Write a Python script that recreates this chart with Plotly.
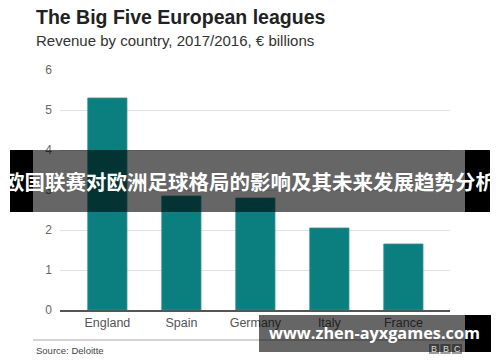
import plotly.graph_objects as go

countries = ["England", "Spain", "Germany", "Italy", "France"]
revenue = [5.3, 2.85, 2.8, 2.05, 1.65]
y_ticks = [0, 1, 2, 3, 4, 5, 6]

title = "The Big Five European leagues"
subtitle = "Revenue by country, 2017/2016, € billions"
source = "Source: Deloitte"
banner = "欧国联赛对欧洲足球格局的影响及其未来发展趋势分析"
watermark = "www.zhen-ayxgames.com"

W, H = 500, 362
def px(x):
    return x / W
def py(y):
    return 1 - y / H

fig = go.Figure(go.Bar(
    x=countries, y=revenue, width=0.53,
    marker=dict(color="#0b7f80", line=dict(color="#2a9496", width=0.8)),
))

shapes = []
annotations = []

# bottom separator line
shapes.append(dict(type="line", xref="paper", yref="paper", x0=px(33), x1=px(470),
                   y0=py(340), y1=py(340), line=dict(color="#aaaaaa", width=1)))
# BBC logo boxes
for i, letter in enumerate("BBC"):
    x0 = 429 + i * 11.5
    shapes.append(dict(type="rect", xref="paper", yref="paper", x0=px(x0), x1=px(x0 + 10),
                       y0=py(354), y1=py(344), fillcolor="#9a9a9a", line=dict(width=0)))
    annotations.append(dict(text=letter, xref="paper", yref="paper", x=px(x0 + 5), y=py(349),
                            showarrow=False, font=dict(color="#dddddd", size=9,
                            family="Liberation Sans"), xanchor="center", yanchor="middle"))

# banner overlay
shapes.append(dict(type="rect", xref="paper", yref="paper", x0=px(33), x1=px(465),
                   y0=py(212), y1=py(150), fillcolor="rgba(0,0,0,0.6)", line=dict(width=0),
                   layer="above"))
shapes.append(dict(type="rect", xref="paper", yref="paper", x0=px(10), x1=px(33),
                   y0=py(212), y1=py(150), fillcolor="#000000", line=dict(width=0), layer="above"))
shapes.append(dict(type="rect", xref="paper", yref="paper", x0=px(465), x1=px(490),
                   y0=py(212), y1=py(150), fillcolor="#000000", line=dict(width=0), layer="above"))
# watermark overlay
shapes.append(dict(type="rect", xref="paper", yref="paper", x0=px(259), x1=px(465),
                   y0=py(352), y1=py(315), fillcolor="rgba(0,0,0,0.6)", line=dict(width=0),
                   layer="above"))
shapes.append(dict(type="rect", xref="paper", yref="paper", x0=px(465), x1=px(491),
                   y0=py(352), y1=py(315), fillcolor="#000000", line=dict(width=0), layer="above"))

annotations += [
    dict(text="<b>" + title + "</b>", xref="paper", yref="paper", x=px(34), y=py(17),
         xanchor="left", yanchor="middle", showarrow=False,
         font=dict(size=19.5, color="#222222", family="Liberation Sans")),
    dict(text=subtitle, xref="paper", yref="paper", x=px(34), y=py(41),
         xanchor="left", yanchor="middle", showarrow=False,
         font=dict(size=15, color="#333333", family="Liberation Sans")),
    dict(text=source, xref="paper", yref="paper", x=px(34), y=py(350),
         xanchor="left", yanchor="middle", showarrow=False,
         font=dict(size=9.5, color="#444444", family="Liberation Sans")),
    dict(text="<b>" + banner + "</b>", xref="paper", yref="paper", x=px(250), y=py(181),
         xanchor="center", yanchor="middle", showarrow=False,
         font=dict(size=20.5, color="#ffffff", family="Noto Sans CJK SC")),
    dict(text="<b>" + watermark + "</b>", xref="paper", yref="paper", x=px(374), y=py(333),
         xanchor="center", yanchor="middle", showarrow=False,
         font=dict(size=16.3, color="#ffffff", family="Open Sans")),
]

fig.update_layout(
    width=W, height=H,
    margin=dict(l=0, r=0, t=0, b=0, pad=0, autoexpand=False),
    paper_bgcolor="#ffffff", plot_bgcolor="#ffffff",
    showlegend=False,
    bargap=0.47,
    xaxis=dict(domain=[px(60), px(450)], range=[-0.64, 4.63], showgrid=False,
               showline=True, linecolor="#555555", linewidth=1.5, automargin=False,
               tickfont=dict(size=12.5, color="#555555", family="Liberation Sans"),
               ticks="", fixedrange=True),
    yaxis=dict(domain=[py(310), py(70)], range=[0, 6], tickvals=y_ticks,
               showgrid=True, gridcolor="#e2e2e2", gridwidth=1, zeroline=False,
               automargin=False,
               tickfont=dict(size=12, color="#666666", family="Liberation Sans"),
               ticks="", ticklabelstandoff=7, fixedrange=True),
    shapes=shapes,
    annotations=annotations,
)

fig.write_html("out.html", config={"displayModeBar": False},
               post_script="document.body.style.margin='0';document.body.style.padding='0';")
